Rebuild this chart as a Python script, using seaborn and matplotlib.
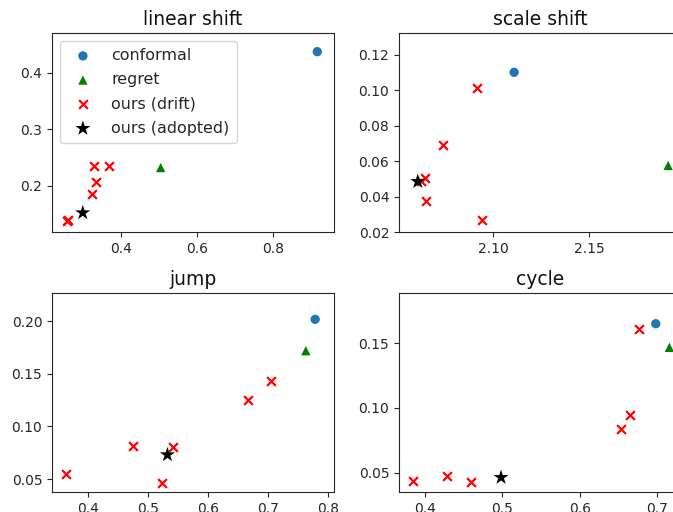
import matplotlib
matplotlib.use("Agg")
import matplotlib.pyplot as plt
import seaborn as sns
import pandas as pd

sns.set_style("white")
plt.rcParams['font.family'] = ['DejaVu Sans']

titles = ["linear shift", "scale shift", "jump", "cycle"]

conformal_x = [0.916, 2.111, 0.779, 0.698]
conformal_y = [0.437, 0.1102, 0.2016, 0.1649]

regret_x = [0.504, 2.1913, 0.7634, 0.7156]
regret_y = [0.232, 0.0576, 0.1718, 0.1467]

drift_x = [
    [0.329, 0.368, 0.334, 0.323, 0.258, 0.260],
    [2.0914, 2.0737, 2.0643, 2.0651, 2.0943, 2.0625],
    [0.7053, 0.6668, 0.541, 0.4752, 0.3622, 0.5226],
    [0.6761, 0.6653, 0.6529, 0.3845, 0.4284, 0.4590],
]
drift_y = [
    [0.234, 0.235, 0.207, 0.186, 0.137, 0.140],
    [0.1012, 0.0689, 0.0506, 0.0373, 0.0266, 0.0486],
    [0.1427, 0.1247, 0.080, 0.0810, 0.0545, 0.0465],
    [0.1606, 0.0946, 0.0840, 0.0434, 0.0477, 0.0428],
]

adopted_x = [0.299, 2.0608, 0.5320, 0.4982]
adopted_y = [0.152, 0.0485, 0.0730, 0.0463]

xlims = [(0.218, 0.960), (2.051, 2.198), (0.339, 0.8105), (0.3664, 0.7306)]
ylims = [(0.118, 0.470), (0.020, 0.1324), (0.0377, 0.2266), (0.0351, 0.1886)]
xticks = [[0.4, 0.6, 0.8], [2.10, 2.15], [0.4, 0.5, 0.6, 0.7, 0.8], [0.4, 0.5, 0.6, 0.7]]
yticks = [[0.2, 0.3, 0.4], [0.02, 0.04, 0.06, 0.08, 0.10, 0.12],
          [0.05, 0.10, 0.15, 0.20], [0.05, 0.10, 0.15]]
xfmt = ["{:.1f}", "{:.2f}", "{:.1f}", "{:.1f}"]
yfmt = ["{:.1f}", "{:.2f}", "{:.2f}", "{:.2f}"]

W, H = 673, 512
fig = plt.figure(figsize=(W / 100, H / 100), dpi=100)

aw, ah = 282 / W, 199 / H
lefts = [52 / W, 399 / W]
bottoms = [(H - 232) / H, (H - 492) / H]
positions = [(lefts[0], bottoms[0]), (lefts[1], bottoms[0]),
             (lefts[0], bottoms[1]), (lefts[1], bottoms[1])]

for i in range(4):
    ax = fig.add_axes([positions[i][0], positions[i][1], aw, ah])
    sns.scatterplot(x=[conformal_x[i]], y=[conformal_y[i]], ax=ax, color="#1f77b4",
                    marker="o", s=45, edgecolor="none", label="conformal", legend=(i == 0))
    sns.scatterplot(x=[regret_x[i]], y=[regret_y[i]], ax=ax, color="green",
                    marker="^", s=45, edgecolor="none", label="regret", legend=(i == 0))
    sns.scatterplot(x=drift_x[i], y=drift_y[i], ax=ax, color="red",
                    marker="x", s=40, linewidth=1.6, label="ours (drift)", legend=(i == 0))
    sns.scatterplot(x=[adopted_x[i]], y=[adopted_y[i]], ax=ax, color="black",
                    marker="*", s=130, edgecolor="none", label="ours (adopted)", legend=(i == 0))
    ax.set_xlim(*xlims[i])
    ax.set_ylim(*ylims[i])
    ax.set_xticks(xticks[i])
    ax.set_xticklabels([xfmt[i].format(v) for v in xticks[i]])
    ax.set_yticks(yticks[i])
    ax.set_yticklabels([yfmt[i].format(v) for v in yticks[i]])
    ax.tick_params(axis="both", which="both", length=3.5, width=0.8, labelsize=10,
                   colors="#262626", bottom=True, left=True)
    for sp in ax.spines.values():
        sp.set_color("#262626")
        sp.set_linewidth(0.8)
    ax.set_title(titles[i], fontsize=13.5, color="#111111", pad=6)
    ax.set_xlabel("")
    ax.set_ylabel("")
    if i == 0:
        ax.legend(loc="upper left", fontsize=11.4, frameon=True, borderpad=0.45,
                  handletextpad=0.8, labelspacing=0.58)
    else:
        if ax.get_legend() is not None:
            ax.get_legend().remove()

fig.savefig("out.png", dpi=100)
